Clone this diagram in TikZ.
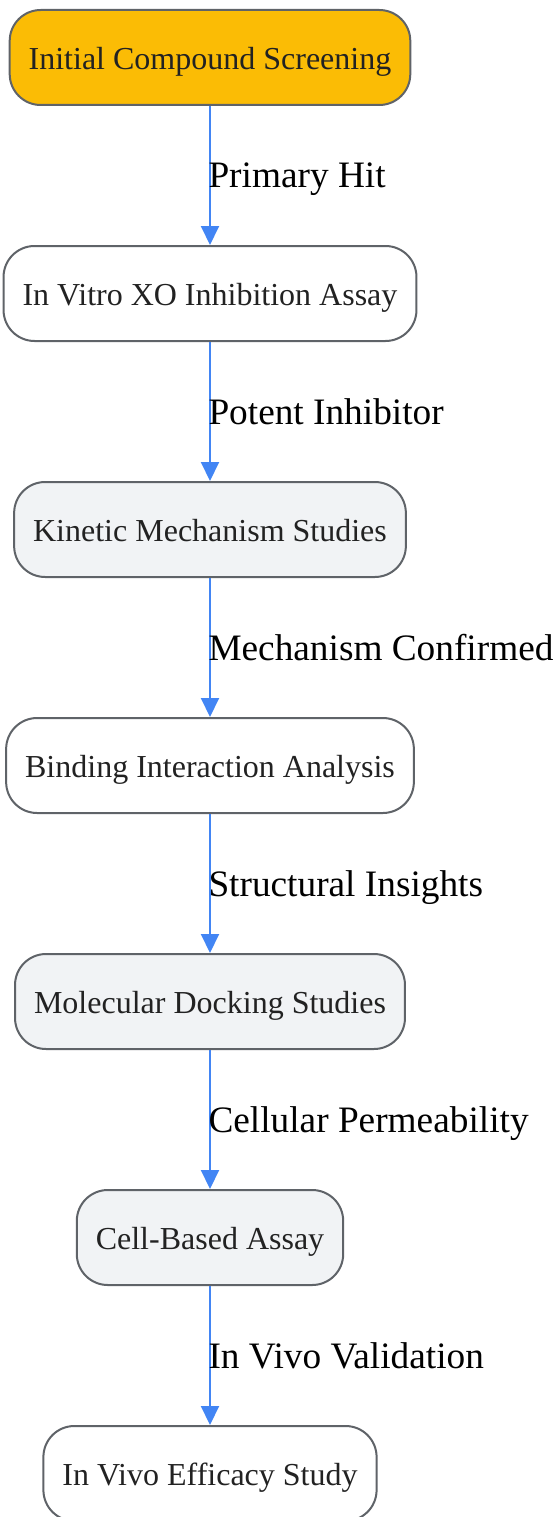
\documentclass[tikz,border=0pt]{standalone}
\usepackage{fontspec}
\setmainfont{Liberation Serif}
\usetikzlibrary{positioning,arrows.meta}
\definecolor{stageline}{HTML}{5F6368}
\definecolor{stagetext}{HTML}{222222}
\definecolor{stagegold}{HTML}{FBBC05}
\definecolor{stagegray}{HTML}{F1F3F5}
\definecolor{flowblue}{HTML}{4285F4}
\begin{document}
\begin{tikzpicture}[x=1pt,y=-1pt,node distance=139pt,
  stage/.style={draw=stageline,line width=2pt,rounded corners=31pt,minimum height=95pt,
    inner xsep=19pt,text height=24pt,text depth=0pt,text=stagetext,font=\fontsize{32}{36}\selectfont},
  flow/.style={draw=flowblue,line width=2pt,-{Triangle[length=19pt,width=18pt]}},
  tag/.style={anchor=west,inner sep=0pt,xshift=-2.5pt,text depth=0pt,font=\fontsize{37.3}{40}\selectfont}]
\useasboundingbox (0,0) rectangle (556,1517);
\node[stage,fill=stagegold] (screen) at (210,57.5) {Initial Compound Screening};
\node[stage,fill=white,below=of screen] (vitro) {In Vitro XO Inhibition Assay};
\node[stage,fill=stagegray,below=of vitro] (kinetic) {Kinetic Mechanism Studies};
\node[stage,fill=white,below=of kinetic] (binding) {Binding Interaction Analysis};
\node[stage,fill=stagegray,below=of binding] (docking) {Molecular Docking Studies};
\node[stage,fill=stagegray,below=of docking] (cell) {Cell-Based Assay};
\node[stage,fill=white,below=of cell] (vivo) {In Vivo Efficacy Study};
\draw[flow] (screen) -- node[tag] {Primary Hit} (vitro);
\draw[flow] (vitro) -- node[tag] {Potent Inhibitor} (kinetic);
\draw[flow] (kinetic) -- node[tag] {Mechanism Confirmed} (binding);
\draw[flow] (binding) -- node[tag] {Structural Insights} (docking);
\draw[flow] (docking) -- node[tag] {Cellular Permeability} (cell);
\draw[flow] (cell) -- node[tag] {In Vivo Validation} (vivo);
\end{tikzpicture}
\end{document}
